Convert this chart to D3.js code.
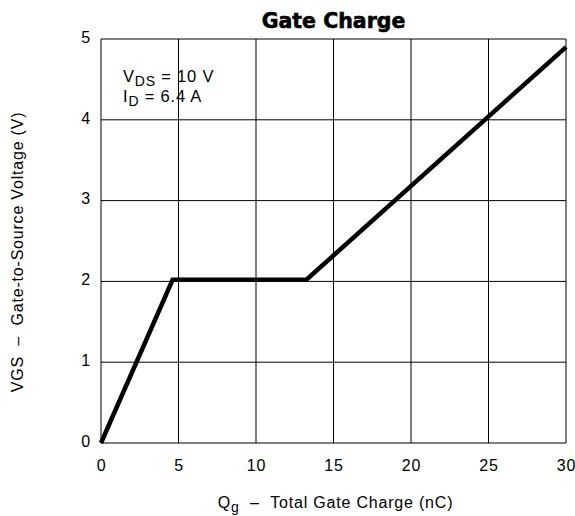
<!DOCTYPE html>
<html lang="en">
<head>
<meta charset="UTF-8">
<title>Gate Charge</title>
<script src="https://cdn.jsdelivr.net/npm/d3@7"></script>
<style>
  body { margin: 0; background: #fff; }
  text { font-family: "Liberation Sans", Arial, sans-serif; fill: #000; letter-spacing: 0.8px; }
  .tick text { font-size: 16px; }
  .grid line { stroke: #000; stroke-width: 1; }
</style>
</head>
<body>
<div class="app"></div>
<script>
  // data
  var qg  = [0, 4.62, 13.25, 30];      // nC
  var vgs = [0, 2.02, 2.02, 4.9];      // V
  var xTicks = [0, 5, 10, 15, 20, 25, 30];
  var yTicks = [0, 1, 2, 3, 4, 5];

  var width = 575, height = 516;
  var margin = {top: 39, right: 9, bottom: 73, left: 101};
  var w = width - margin.left - margin.right,
      h = height - margin.top - margin.bottom;

  var svg = d3.select('.app').append('svg')
      .attr('width', width).attr('height', height);
  var g = svg.append('g')
      .attr('transform', 'translate(' + margin.left + ',' + margin.top + ')');

  var x = d3.scaleLinear().domain([0, 30]).range([0, w]);
  var y = d3.scaleLinear().domain([0, 5]).range([h, 0]);

  // grid
  g.append('g').attr('class', 'grid')
    .selectAll('line').data(xTicks).enter().append('line')
    .attr('x1', function(d){ return x(d); }).attr('x2', function(d){ return x(d); })
    .attr('y1', 0).attr('y2', h);
  g.append('g').attr('class', 'grid')
    .selectAll('line').data(yTicks).enter().append('line')
    .attr('y1', function(d){ return y(d); }).attr('y2', function(d){ return y(d); })
    .attr('x1', 0).attr('x2', w);

  // axes (labels only)
  var xa = g.append('g').attr('transform', 'translate(0,' + h + ')')
    .call(d3.axisBottom(x).tickValues(xTicks).tickFormat(d3.format('d')).tickSize(0).tickPadding(17));
  xa.select('.domain').remove();
  var ya = g.append('g')
    .call(d3.axisLeft(y).tickValues(yTicks).tickFormat(d3.format('d')).tickSize(0).tickPadding(10));
  ya.select('.domain').remove();
  ya.selectAll('.tick text').attr('dy', '0.2em');

  // curve
  var line = d3.line()
    .x(function(d, i){ return x(qg[i]); })
    .y(function(d, i){ return y(vgs[i]); });
  g.append('path').datum(qg)
    .attr('d', line)
    .attr('fill', 'none').attr('stroke', '#000')
    .attr('stroke-width', 4.5).attr('stroke-linejoin', 'miter');

  // title
  svg.append('text')
    .attr('x', margin.left + w / 2).attr('y', 28)
    .attr('text-anchor', 'middle')
    .style('font-size', '20.5px').style('font-weight', 'bold')
    .style('letter-spacing', '0px')
    .style('font-family', '"DejaVu Sans", sans-serif')
    .style('stroke', '#000').style('stroke-width', '0.6px')
    .text('Gate Charge');

  // annotation
  var ann = g.append('text').attr('x', 22).attr('y', 43).style('font-size', '16.5px');
  ann.append('tspan').text('V');
  ann.append('tspan').attr('dy', 4).style('font-size', '14px').text('DS');
  ann.append('tspan').attr('dy', -4).text(' = 10 V');
  var ann2 = g.append('text').attr('x', 22).attr('y', 63).style('font-size', '16.5px');
  ann2.append('tspan').text('I');
  ann2.append('tspan').attr('dy', 4).style('font-size', '14px').text('D');
  ann2.append('tspan').attr('dy', -4).text(' = 6.4 A');

  // x axis title
  var xt = svg.append('text')
    .attr('x', margin.left + w / 2 + 2).attr('y', 508)
    .attr('text-anchor', 'middle').style('font-size', '16px');
  xt.append('tspan').text('Q');
  xt.append('tspan').attr('dy', 4).style('font-size', '14px').text('g');
  xt.append('tspan').attr('dy', -4).text('\u00a0\u00a0–\u00a0\u00a0Total Gate Charge (nC)');

  // y axis title
  svg.append('text')
    .attr('transform', 'translate(23,' + 252 + ') rotate(-90)')
    .attr('text-anchor', 'middle').style('font-size', '16px')
    .text('VGS\u00a0\u00a0–\u00a0\u00a0Gate-to-Source Voltage (V)');
</script>
</body>
</html>
